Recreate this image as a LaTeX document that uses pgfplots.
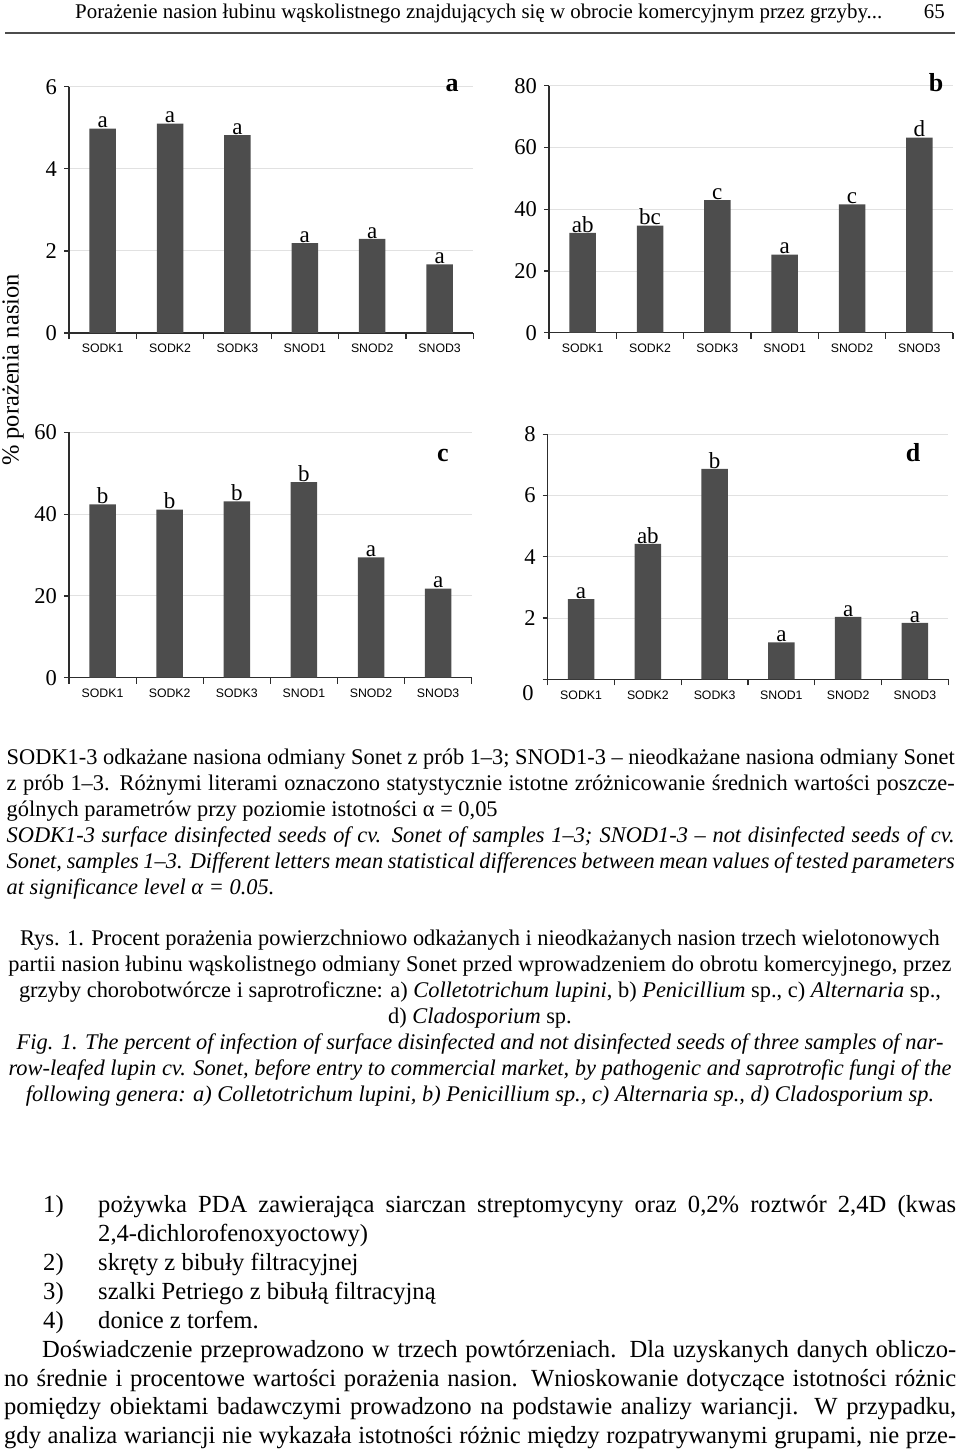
\documentclass[border=0pt]{standalone}
\usepackage{fontspec}
\setmainfont{Liberation Serif}
\setsansfont{Liberation Sans}
\usepackage{pgfplots}
\pgfplotsset{compat=1.18}
\definecolor{barc}{RGB}{77,77,77}
\definecolor{gridc}{RGB}{225,225,225}
\definecolor{axc}{RGB}{45,45,45}
\newcommand\cf{\fontsize{22.4}{26}\selectfont}
\newcommand\bdf{\fontsize{24.6}{29}\selectfont}
\newcommand\tf{\fontsize{22.5}{24}\selectfont}
\pgfplotsset{panel/.style={
  scale only axis, anchor=south west,
  xmin=-0.5, xmax=5.5, ymin=0,
  axis x line=bottom, axis y line=left,
  axis line style={-, axc, line width=1.4pt},
  xtick={0,...,5},
  xticklabels={SODK1,SODK2,SODK3,SNOD1,SNOD2,SNOD3},
  minor xtick={-0.5,0.5,...,5.5},
  major x tick style={draw=none},
  minor x tick style={axc, line width=1.2pt},
  minor tick length=6pt,
  major tick length=5pt,
  y tick style={axc, line width=1.2pt},
  tick align=outside,
  ymajorgrids, grid style={gridc, line width=0.9pt},
  xticklabel style={font=\sffamily\fontsize{12.3}{14}\selectfont, inner sep=0pt, yshift=-6pt},
  yticklabel style={font=\tf, inner sep=0pt, xshift=-7pt},
  /pgf/number format/assume math mode=true,
  ybar, bar width=26.5pt, bar shift=0pt,
  nodes near coords, point meta=explicit symbolic,
  nodes near coords style={font=\fontsize{23}{24}\selectfont, anchor=south, inner sep=0.3pt},
  clip=false,
}}
\begin{document}
\begin{tikzpicture}[x=1pt,y=1pt]
\path (0,0) rectangle (960,-1450);
% header
\node[anchor=base west, inner sep=0pt, font=\fontsize{20.9}{24}\selectfont] at (75,-18.5) {Porażenie nasion łubinu wąskolistnego znajdujących się w obrocie komercyjnym przez grzyby...};
\node[anchor=base east, inner sep=0pt, font=\fontsize{20.9}{24}\selectfont] at (945,-18.5) {65};
\draw[line width=1.3pt, black!70] (5,-33) -- (955,-33);

% panel a
\begin{axis}[panel, at={(69pt,-333pt)}, width=404.3pt, height=246.3pt, ymax=6, ytick={0,2,4,6}]
\addplot[fill=barc, draw=none] coordinates {(0,4.98)[a] (1,5.10)[a] (2,4.82)[a] (3,2.19)[a] (4,2.29)[a] (5,1.67)[a]};
\end{axis}
% panel b
\begin{axis}[panel, at={(549pt,-332.7pt)}, width=404pt, height=247pt, ymax=80, ytick={0,20,40,60,80}]
\addplot[fill=barc, draw=none] coordinates {(0,32.3)[ab] (1,34.7)[bc] (2,42.9)[c] (3,25.3)[a] (4,41.6)[c] (5,63.2)[d]};
\end{axis}
% panel c
\begin{axis}[panel, at={(69pt,-677.7pt)}, width=402.7pt, height=245.4pt, ymax=60, ytick={0,20,40,60}]
\addplot[fill=barc, draw=none] coordinates {(0,42.4)[b] (1,41.1)[b] (2,43.1)[b] (3,47.8)[b] (4,29.4)[a] (5,21.8)[a]};
\end{axis}
% panel d
\begin{axis}[panel, at={(547.7pt,-679.3pt)}, width=400.6pt, height=245pt, ymax=8, ytick={0,2,4,6,8}, yticklabels={,2,4,6,8}]
\addplot[fill=barc, draw=none] coordinates {(0,2.62)[a] (1,4.42)[ab] (2,6.87)[b] (3,1.21)[a] (4,2.04)[a] (5,1.84)[a]};
\end{axis}
\node[font=\tf, inner sep=0pt] at (528,-692.7) {0};

% panel letters
\node[anchor=base, inner sep=0pt, font=\fontsize{26}{28}\selectfont\bfseries] at (452,-92) {a};
\node[anchor=base, inner sep=0pt, font=\fontsize{26}{28}\selectfont\bfseries] at (936,-92) {b};
\node[anchor=base, inner sep=0pt, font=\fontsize{26}{28}\selectfont\bfseries] at (443,-461.5) {c};
\node[anchor=base, inner sep=0pt, font=\fontsize{26}{28}\selectfont\bfseries] at (913,-461.5) {d};

% y label
\node[rotate=90, inner sep=0pt, font=\fontsize{24.5}{26}\selectfont] at (13,-370) {\% porażenia nasion};

% caption block
\node[anchor=base west, inner sep=0pt] at (6.5,-764) {\cf\makebox[948pt][s]{SODK1-3 odkażane nasiona odmiany Sonet z prób 1–3; SNOD1-3 – nieodkażane nasiona odmiany Sonet}};
\node[anchor=base west, inner sep=0pt] at (6.5,-790) {\cf\makebox[948pt][s]{z prób 1–3. Różnymi literami oznaczono statystycznie istotne zróżnicowanie średnich wartości poszcze-}};
\node[anchor=base west, inner sep=0pt] at (6.5,-816) {\cf gólnych parametrów przy poziomie istotności α = 0,05};
\node[anchor=base west, inner sep=0pt] at (6.5,-842) {\cf\itshape\makebox[948pt][s]{SODK1-3 surface disinfected seeds of cv. Sonet of samples 1–3; SNOD1-3 – not disinfected seeds of cv.}};
\node[anchor=base west, inner sep=0pt] at (6.5,-868) {\cf\itshape\makebox[948pt][s]{Sonet, samples 1–3. Different letters mean statistical differences between mean values of tested parameters}};
\node[anchor=base west, inner sep=0pt] at (6.5,-894) {\cf\itshape at significance level α = 0.05.};

% Rys caption
\node[anchor=base, inner sep=0pt] at (480,-945) {\cf Rys. 1. Procent porażenia powierzchniowo odkażanych i nieodkażanych nasion trzech wielotonowych};
\node[anchor=base, inner sep=0pt] at (480,-971) {\cf partii nasion łubinu wąskolistnego odmiany Sonet przed wprowadzeniem do obrotu komercyjnego, przez};
\node[anchor=base, inner sep=0pt] at (480,-997) {\cf grzyby chorobotwórcze i saprotroficzne: a) \textit{Colletotrichum lupini}, b) \textit{Penicillium} sp., c) \textit{Alternaria} sp.,};
\node[anchor=base, inner sep=0pt] at (480,-1023) {\cf d) \textit{Cladosporium} sp.};
\node[anchor=base, inner sep=0pt] at (480,-1049) {\cf\itshape Fig. 1. The percent of infection of surface disinfected and not disinfected seeds of three samples of nar-};
\node[anchor=base, inner sep=0pt] at (480,-1075) {\cf\itshape row-leafed lupin cv. Sonet, before entry to commercial market, by pathogenic and saprotrofic fungi of the};
\node[anchor=base, inner sep=0pt] at (480,-1101) {\cf\itshape following genera: a) Colletotrichum lupini, b) Penicillium sp., c) Alternaria sp., d) Cladosporium sp.};

% body text
\node[anchor=base west, inner sep=0pt] at (43,-1212) {\bdf 1)};
\node[anchor=base west, inner sep=0pt] at (98,-1212) {\bdf\makebox[858pt][s]{pożywka PDA zawierająca siarczan streptomycyny oraz 0,2\% roztwór 2,4D (kwas}};
\node[anchor=base west, inner sep=0pt] at (98,-1241) {\bdf 2,4-dichlorofenoxyoctowy)};
\node[anchor=base west, inner sep=0pt] at (43,-1270) {\bdf 2)};
\node[anchor=base west, inner sep=0pt] at (98,-1270) {\bdf skręty z bibuły filtracyjnej};
\node[anchor=base west, inner sep=0pt] at (43,-1299) {\bdf 3)};
\node[anchor=base west, inner sep=0pt] at (98,-1299) {\bdf szalki Petriego z bibułą filtracyjną};
\node[anchor=base west, inner sep=0pt] at (43,-1328) {\bdf 4)};
\node[anchor=base west, inner sep=0pt] at (98,-1328) {\bdf donice z torfem.};
\node[anchor=base west, inner sep=0pt] at (42,-1357) {\bdf\makebox[914pt][s]{Doświadczenie przeprowadzono w trzech powtórzeniach. Dla uzyskanych danych obliczo-}};
\node[anchor=base west, inner sep=0pt] at (4,-1386) {\bdf\makebox[952pt][s]{no średnie i procentowe wartości porażenia nasion. Wnioskowanie dotyczące istotności różnic}};
\node[anchor=base west, inner sep=0pt] at (4,-1414) {\bdf\makebox[952pt][s]{pomiędzy obiektami badawczymi prowadzono na podstawie analizy wariancji. W przypadku,}};
\node[anchor=base west, inner sep=0pt] at (4,-1443) {\bdf\makebox[952pt][s]{gdy analiza wariancji nie wykazała istotności różnic między rozpatrywanymi grupami, nie prze-}};
\end{tikzpicture}
\end{document}
